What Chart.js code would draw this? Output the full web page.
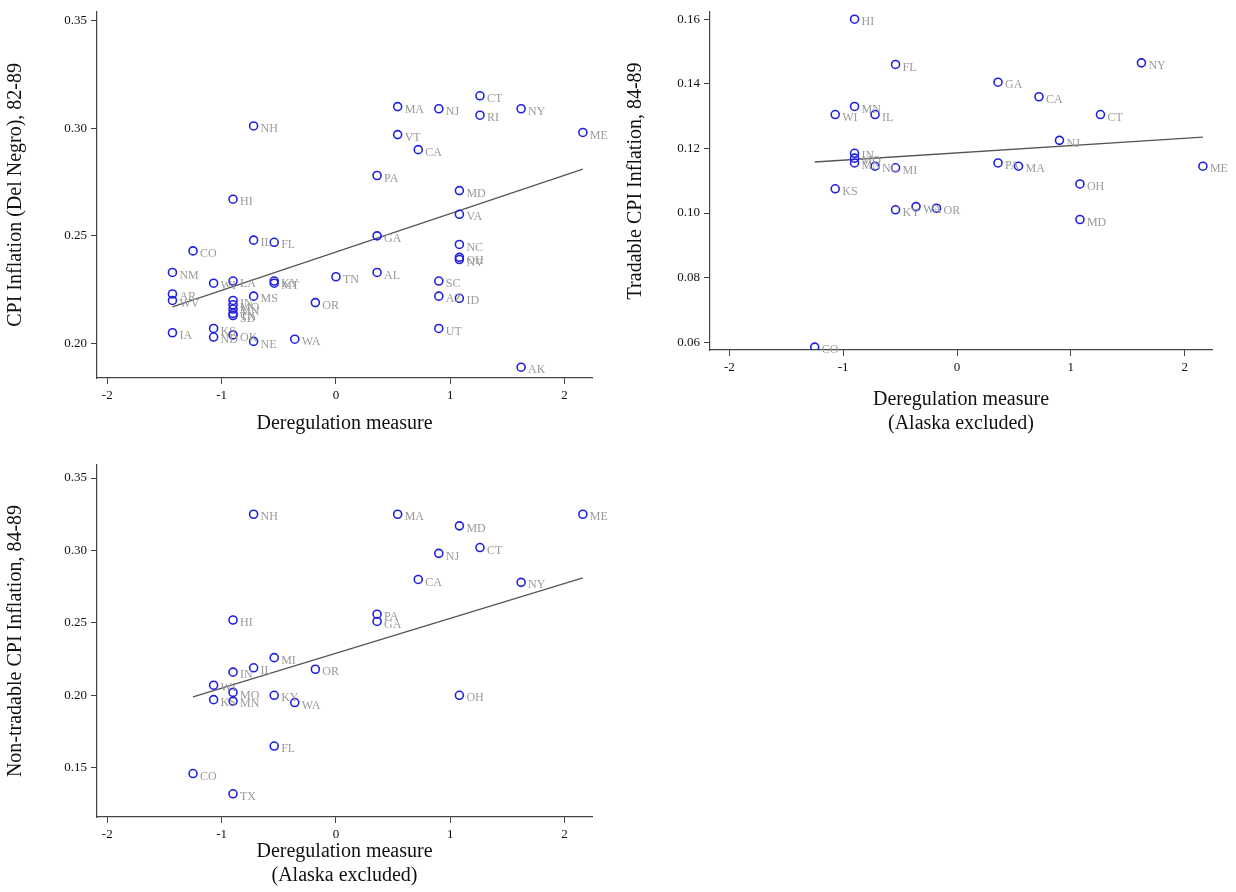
<!DOCTYPE html>
<html>
<head>
<meta charset="utf-8">
<script src="https://cdn.jsdelivr.net/npm/chart.js@4"></script>
<style>
  body { margin: 0; background: #fff; width: 1236px; height: 892px; overflow: hidden; }
  .panel { position: absolute; }
</style>
</head>
<body>
<div class="panel" style="left:0;top:0;width:618px;height:440px"><canvas id="c1"></canvas></div>
<div class="panel" style="left:620px;top:0;width:616px;height:440px"><canvas id="c2"></canvas></div>
<div class="panel" style="left:0;top:450px;width:618px;height:442px"><canvas id="c3"></canvas></div>
<script>
// panel 1: CPI inflation (Del Negro) 82-89, all states
const states1 = ["NH","HI","CO","NM","WI","LA","KY","MT","MS","IL","FL","TN","OR","AL","GA","PA","MA","VT","CA","NJ","SC","AZ","UT","MD","VA","NC","OH","NV","ID","CT","RI","NY","AK","ME","AR","WV","IN","MO","MN","TX","SD","IA","KS","ND","OK","NE","WA"];
const x1 = [-0.72,-0.9,-1.25,-1.43,-1.07,-0.9,-0.54,-0.54,-0.72,-0.72,-0.54,0,-0.18,0.36,0.36,0.36,0.54,0.54,0.72,0.9,0.9,0.9,0.9,1.08,1.08,1.08,1.08,1.08,1.08,1.26,1.26,1.62,1.62,2.16,-1.43,-1.43,-0.9,-0.9,-0.9,-0.9,-0.9,-1.43,-1.07,-1.07,-0.9,-0.72,-0.36];
const y1 = [0.301,0.267,0.243,0.233,0.228,0.229,0.229,0.228,0.222,0.248,0.247,0.231,0.219,0.233,0.250,0.278,0.310,0.297,0.290,0.309,0.229,0.222,0.207,0.271,0.260,0.246,0.240,0.239,0.221,0.315,0.306,0.309,0.189,0.298,0.223,0.220,0.220,0.218,0.216,0.214,0.213,0.205,0.207,0.203,0.204,0.201,0.202];
const fitX1 = [-1.43, 2.16];
const fitY1 = [0.217, 0.281];
const yTicks1 = [0.20, 0.25, 0.30, 0.35];

// panel 2: tradable CPI inflation 84-89
const states2 = ["HI","FL","NY","GA","CA","MN","WI","IL","CT","NJ","IN","MO","MN","NC","MI","PA","MA","ME","KS","OH","KY","WA","OR","MD","CO"];
const x2 = [-0.9,-0.54,1.62,0.36,0.72,-0.9,-1.07,-0.72,1.26,0.9,-0.9,-0.9,-0.9,-0.72,-0.54,0.36,0.54,2.16,-1.07,1.08,-0.54,-0.36,-0.18,1.08,-1.25];
const y2 = [0.160,0.146,0.1465,0.1405,0.136,0.133,0.1305,0.1305,0.1305,0.1225,0.1185,0.117,0.1155,0.1145,0.114,0.1155,0.1145,0.1145,0.1075,0.109,0.101,0.102,0.1015,0.098,0.0585];
const fitX2 = [-1.25, 2.16];
const fitY2 = [0.1158, 0.1235];
const yTicks2 = [0.06, 0.08, 0.10, 0.12, 0.14, 0.16];

// panel 3: non-tradable CPI inflation 84-89
const states3 = ["NH","MA","ME","MD","NJ","CT","CA","NY","PA","GA","HI","MI","IL","OR","IN","WI","MO","KY","OH","KS","MN","WA","FL","CO","TX"];
const x3 = [-0.72,0.54,2.16,1.08,0.9,1.26,0.72,1.62,0.36,0.36,-0.9,-0.54,-0.72,-0.18,-0.9,-1.07,-0.9,-0.54,1.08,-1.07,-0.9,-0.36,-0.54,-1.25,-0.9];
const y3 = [0.325,0.325,0.325,0.317,0.298,0.302,0.280,0.278,0.256,0.251,0.252,0.226,0.219,0.218,0.216,0.207,0.202,0.200,0.200,0.197,0.196,0.195,0.165,0.146,0.132];
const fitX3 = [-1.25, 2.16];
const fitY3 = [0.199, 0.281];
const yTicks3 = [0.15, 0.20, 0.25, 0.30, 0.35];

const xTicks = [-2, -1, 0, 1, 2];
const serif = "'Liberation Serif', 'DejaVu Serif', serif";

const pointLabels = {
  id: 'pointLabels',
  afterDatasetsDraw(chart) {
    const meta = chart.getDatasetMeta(0);
    const names = chart.options.plugins.pointLabels.names;
    const ctx = chart.ctx;
    ctx.save();
    ctx.font = "12px " + serif;
    ctx.fillStyle = "#9a9a9a";
    ctx.textBaseline = "middle";
    meta.data.forEach((pt, i) => {
      ctx.fillText(names[i], pt.x + 7, pt.y + 3);
    });
    ctx.restore();
  }
};

function makeChart(id, names, xs, ys, fx, fy, yTicks, yMin, yMax, xMin, xMax, yTitle, xTitle, dims) {
  new Chart(document.getElementById(id), {
    data: {
      datasets: [{
        type: 'scatter',
        data: xs.map((x, i) => ({x: x, y: ys[i]})),
        pointStyle: 'circle',
        pointRadius: 4,
        pointBorderWidth: 1.6,
        pointBorderColor: '#2020e0',
        pointBackgroundColor: 'rgba(0,0,0,0)',
        order: 1
      }, {
        type: 'line',
        data: fx.map((x, i) => ({x: x, y: fy[i]})),
        borderColor: '#555',
        borderWidth: 1.3,
        pointRadius: 0,
        fill: false,
        order: 2
      }]
    },
    options: {
      responsive: true,
      maintainAspectRatio: false,
      animation: false,
      layout: { padding: { top: dims.top, right: dims.right, left: 0, bottom: 0 } },
      plugins: {
        legend: { display: false },
        tooltip: { enabled: false },
        pointLabels: { names: names }
      },
      scales: {
        x: {
          type: 'linear',
          min: xMin, max: xMax,
          afterBuildTicks: s => { s.ticks = xTicks.map(v => ({value: v})); },
          afterFit: s => { s.height = dims.xh; },
          border: { display: true, color: '#444', width: 1.2 },
          grid: { drawOnChartArea: false, drawTicks: true, tickLength: 6, color: '#444' },
          ticks: { color: '#111', font: { family: serif, size: 13 }, padding: 4 },
          title: { display: true, text: xTitle, color: '#111', font: { family: serif, size: 20 }, padding: { top: 0 } }
        },
        y: {
          type: 'linear',
          min: yMin, max: yMax,
          afterBuildTicks: s => { s.ticks = yTicks.map(v => ({value: v})); },
          afterFit: s => { s.width = dims.yw; },
          border: { display: true, color: '#444', width: 1.2 },
          grid: { drawOnChartArea: false, drawTicks: true, tickLength: 6, color: '#444' },
          ticks: { color: '#111', font: { family: serif, size: 13 }, padding: 4, callback: v => v.toFixed(2) },
          title: { display: true, text: yTitle, color: '#111', font: { family: serif, size: 20 }, padding: { bottom: 2 } }
        }
      }
    },
    plugins: [pointLabels]
  });
}

makeChart('c1', states1, x1, y1, fitX1, fitY1, yTicks1, 0.184, 0.354, -2.09, 2.24,
  "CPI Inflation (Del Negro), 82-89", "Deregulation measure",
  { top: 0, right: 26, xh: 62, yw: 97 });
makeChart('c2', states2, x2, y2, fitX2, fitY2, yTicks2, 0.0576, 0.1623, -2.17, 2.24,
  "Tradable CPI Inflation, 84-89", ["Deregulation measure", "(Alaska excluded)"],
  { top: 0, right: 24, xh: 90, yw: 90 });
makeChart('c3', states3, x3, y3, fitX3, fitY3, yTicks3, 0.116, 0.359, -2.09, 2.24,
  "Non-tradable CPI Inflation, 84-89", ["Deregulation measure", "(Alaska excluded)"],
  { top: 15, right: 26, xh: 75, yw: 97 });
</script>
</body>
</html>
